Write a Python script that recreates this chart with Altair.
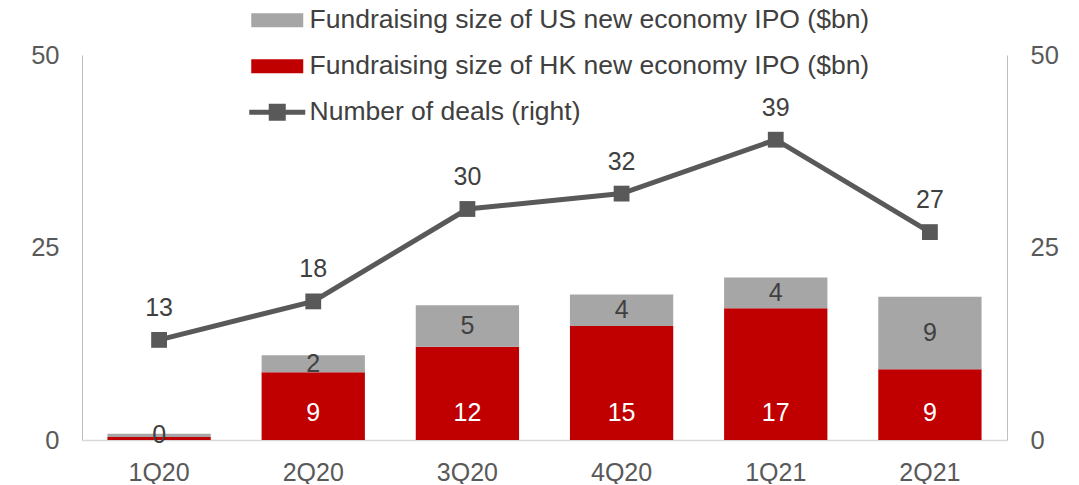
import altair as alt
import pandas as pd

quarters = ["1Q20", "2Q20", "3Q20", "4Q20", "1Q21", "2Q21"]
hk_values = [0.4, 8.8, 12.1, 14.8, 17.1, 9.2]
us_values = [0.4, 2.2, 5.4, 4.1, 4.0, 9.4]
deals = [13, 18, 30, 32, 39, 27]

US_NAME = "Fundraising size of US new economy IPO ($bn)"
HK_NAME = "Fundraising size of HK new economy IPO ($bn)"
LINE_NAME = "Number of deals (right)"
series_names = [US_NAME, HK_NAME, LINE_NAME]
series_colors = ["#a6a6a6", "#c00000", "#595959"]

FONT = "Liberation Sans"

bars_df = pd.DataFrame({
    "quarter": quarters * 2,
    "series": [HK_NAME] * len(quarters) + [US_NAME] * len(quarters),
    "value": hk_values + us_values,
    "ord": [0] * len(quarters) + [1] * len(quarters),
})
wide_df = pd.DataFrame({"quarter": quarters, "hk": hk_values, "us": us_values, "deals": deals})

x_enc = alt.X(
    "quarter:N", sort=quarters, title=None,
    scale=alt.Scale(paddingInner=0.33, paddingOuter=0.165),
    axis=alt.Axis(labelAngle=0, labelFontSize=25, labelColor="#595959", labelFont=FONT,
                  labelPadding=20, ticks=False, domainColor="#d9d9d9", domainWidth=1.5,
                  grid=False),
)

yscale = alt.Scale(domain=[0, 50], nice=False)

left_axis = alt.Axis(values=[0, 25, 50], orient="left", labelFontSize=25.5, labelColor="#595959",
                     labelFont=FONT, labelPadding=23, ticks=False, domainColor="#bfbfbf",
                     domainWidth=1, grid=False, title=None)
right_axis = alt.Axis(values=[0, 25, 50], orient="right", labelFontSize=25.5, labelColor="#595959",
                      labelFont=FONT, labelPadding=23, ticks=False, domainColor="#bfbfbf",
                      domainWidth=1, grid=False, title=None)

shape_expr = (
    "datum.value === '" + LINE_NAME + "' ? "
    "'M-2.8,-0.25H2.8V0.25H-2.8Z M-0.85,-0.85H0.85V0.85H-0.85Z' : "
    "'M-2.6,-0.7H2.6V0.7H-2.6Z'"
)

legend = alt.Legend(
    title=None, orient="none", legendX=182, legendY=-48, direction="vertical",
    labelFontSize=26.5, labelColor="#404040", labelFont=FONT, symbolSize=400,
    labelOffset=19, rowPadding=19, padding=0, labelLimit=1000, values=series_names,
    symbolType={"expr": shape_expr},
    symbolFillColor={"expr": "scale('color', datum.value)"},
    symbolStrokeWidth=0, symbolOpacity=1,
)

color_scale = alt.Scale(domain=series_names, range=series_colors)

bars = alt.Chart(bars_df).mark_bar().encode(
    x=x_enc,
    y=alt.Y("value:Q", stack="zero", scale=yscale, axis=left_axis),
    color=alt.Color("series:N", scale=color_scale, legend=legend),
    order=alt.Order("ord:Q"),
)

us_labels = alt.Chart(wide_df).transform_calculate(
    mid="datum.hk + datum.us / 2"
).mark_text(color="#404040", fontSize=25, font=FONT, baseline="middle").encode(
    x=x_enc,
    y=alt.Y("mid:Q", scale=yscale, axis=left_axis),
    text=alt.Text("us:Q", format=".0f"),
)

# white HK labels at the bar base (the 1Q20 one is invisible on white, so skipped)
hk_labels = alt.Chart(wide_df).transform_filter(
    "datum.hk >= 1"
).transform_calculate(
    base="0"
).mark_text(
    color="white", fontSize=25, font=FONT, baseline="middle", dy=-27
).encode(
    x=x_enc,
    y=alt.Y("base:Q", scale=yscale, axis=left_axis),
    text=alt.Text("hk:Q", format=".0f"),
)

left_layer = alt.layer(bars, us_labels, hk_labels)

line = alt.Chart(wide_df).mark_line(strokeWidth=5).encode(
    x=x_enc,
    y=alt.Y("deals:Q", scale=yscale, axis=right_axis),
    color=alt.datum(LINE_NAME),
)
points = alt.Chart(wide_df).mark_square(size=250, opacity=1).encode(
    x=x_enc,
    y=alt.Y("deals:Q", scale=yscale, axis=right_axis),
    color=alt.datum(LINE_NAME),
)
line_labels = alt.Chart(wide_df).mark_text(
    color="#404040", fontSize=25, font=FONT, baseline="middle", dy=-32
).encode(
    x=x_enc,
    y=alt.Y("deals:Q", scale=yscale, axis=right_axis),
    text=alt.Text("deals:Q"),
)

right_layer = alt.layer(line, points, line_labels)

chart = alt.layer(left_layer, right_layer).resolve_scale(y="independent").properties(
    width=925, height=385,
    autosize=alt.AutoSizeParams(type="none"),
    padding={"left": 74, "top": 47, "right": 60, "bottom": 44},
).configure_view(strokeWidth=0, stroke="transparent")

chart.save("out.html", embed_options={"renderer": "svg", "actions": False})
